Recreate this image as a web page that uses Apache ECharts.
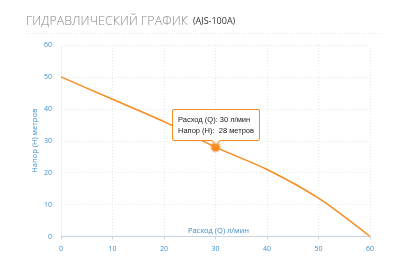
<!DOCTYPE html>
<html><head><meta charset="utf-8">
<script src="https://cdn.jsdelivr.net/npm/echarts@6/dist/echarts.min.js"></script>
<style>html,body{margin:0;padding:0;background:#fff}#c{width:400px;height:266px}</style>
</head><body><div id="c"></div>
<script>
var flow = [0, 10, 20, 30, 40, 50, 60];
var head = [50, 43, 36, 28, 21, 12, 0];
var xTicks = [0, 10, 20, 30, 40, 50, 60];
var yTicks = [0, 10, 20, 30, 40, 50, 60];
var focusIndex = 3;

var ORANGE = '#f98a1f';
var BLUE = '#3d8fcf';
var chart = echarts.init(document.getElementById('c'));
var seriesData = flow.map(function (q, i) {
  var d = { value: [q, head[i]] };
  if (i === focusIndex) {
    d.symbol = 'circle'; d.symbolSize = 8;
    d.itemStyle = { color: ORANGE, borderColor: 'rgba(249,138,31,0.35)', borderWidth: 3 };
  }
  return d;
});
chart.setOption({
  animation: false,
  title: {
    text: '{a|ГИДРАВЛИЧЕСКИЙ ГРАФИК} {b|(AJS-100A)}',
    left: 21, top: 7,
    textStyle: { rich: {
      a: { fontFamily: 'Open Sans', fontSize: 12.5, color: '#8a8a8a', fontWeight: 300 },
      b: { fontFamily: 'Open Sans', fontSize: 9, color: '#333', fontWeight: 'normal' }
    } }
  },
  graphic: [{ type: 'line', shape: { x1: 26, y1: 33.5, x2: 381, y2: 33.5 },
    style: { stroke: '#e2e2e2', lineWidth: 1, lineDash: [1, 2] } }],
  grid: { left: 61, right: 30, top: 45, bottom: 29.5, outerBoundsMode: 'none' },
  tooltip: {
    trigger: 'item', position: 'top', alwaysShowContent: true, transitionDuration: 0,
    backgroundColor: '#fff', borderColor: ORANGE, borderWidth: 1, padding: [4, 5],
    textStyle: { fontFamily: 'Liberation Sans', fontSize: 7.5, color: '#222' },
    extraCssText: 'box-shadow:none;line-height:11px;border-radius:2px;margin-top:9px;',
    formatter: function (p) {
      return 'Расход (Q): ' + p.value[0] + ' л/мин<br/>Напор (H):&nbsp; ' + p.value[1] + ' метров';
    }
  },
  xAxis: {
    type: 'value', min: 0, max: 60, interval: 10,
    name: 'Расход (Q) л/мин', nameLocation: 'middle', nameGap: -10, nameMoveOverlap: false,
    nameTextStyle: { color: BLUE, fontSize: 7.5, fontFamily: 'Open Sans', padding: [0, 0, 0, 6] },
    axisLine: { lineStyle: { color: '#c9d4e3' } },
    axisTick: { show: true, length: 3, lineStyle: { color: '#c9d4e3' } },
    axisLabel: { color: BLUE, fontSize: 7, fontFamily: 'Open Sans', margin: 9 },
    splitLine: { lineStyle: { color: '#e6e6e6', type: [1, 2] } }
  },
  yAxis: {
    type: 'value', min: 0, max: 60, interval: 10,
    name: 'Напор (H) метров', nameLocation: 'middle', nameGap: 22, nameRotate: 90, nameMoveOverlap: false,
    nameTextStyle: { color: BLUE, fontSize: 7.5, fontFamily: 'Open Sans' },
    axisLine: { show: true, lineStyle: { color: '#eef0f4' } },
    axisTick: { show: false },
    axisLabel: { color: BLUE, fontSize: 7, fontFamily: 'Open Sans', margin: 9 },
    splitLine: { lineStyle: { color: '#e6e6e6', type: [1, 2] } }
  },
  series: [{
    type: 'line', smooth: 0.3, showSymbol: true, symbol: 'none',
    lineStyle: { color: ORANGE, width: 1.5 }, itemStyle: { color: ORANGE },
    data: seriesData
  }]
});
chart.dispatchAction({ type: 'showTip', seriesIndex: 0, dataIndex: focusIndex });
</script></body></html>
